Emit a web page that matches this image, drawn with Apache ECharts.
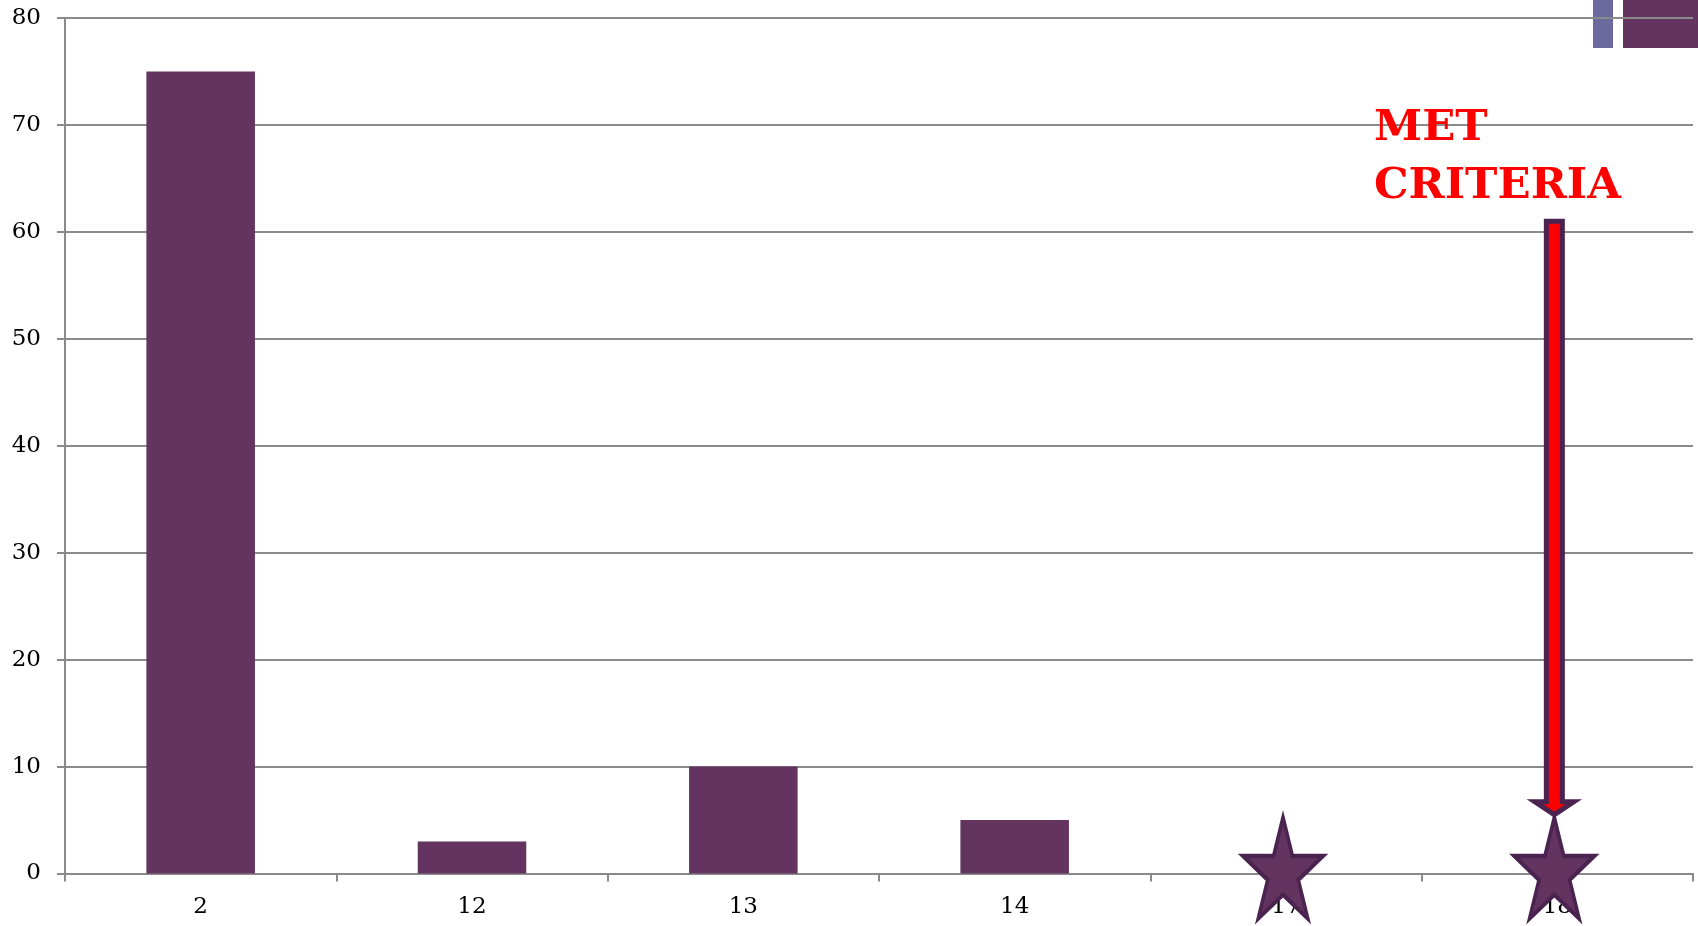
<!DOCTYPE html>
<html>
<head>
<meta charset="utf-8">
<script src="https://cdn.jsdelivr.net/npm/echarts@6/dist/echarts.min.js"></script>
<style>
  html, body { margin: 0; padding: 0; background: #ffffff; }
  #chart { width: 1698px; height: 926px; }
</style>
</head>
<body>
<div id="chart"></div>
<script>
// Categories along the x axis and the bar heights for each
const categories = ['2', '12', '13', '14', '17', '18'];
const barValues = [75, 3, 10, 5, 0, 0];

// Star markers sitting on the baseline
const starCategories = ['17', '18'];
const starValues = [0, 0];

// Annotation arrow: category and the value range it spans
const arrowCategory = '18';
const arrowStart = 61;
const arrowEnd = 5.5;
const annotationText = 'MET\nCRITERIA';

// Value axis ticks
const yMin = 0;
const yMax = 80;
const yStep = 10;

const PURPLE = '#633460';
const DARK_PURPLE = '#4b2350';
const GRID_GRAY = '#8a8a8a';
const SERIF = '"DejaVu Serif", serif';

// Regular five-point star outline as an SVG path
function starPath() {
  const pts = [];
  for (let k = 0; k < 10; k++) {
    const a = -Math.PI / 2 + k * Math.PI / 5;
    const r = k % 2 === 0 ? 100 : 38.2;
    pts.push((r * Math.cos(a)).toFixed(2) + ' ' + (r * Math.sin(a)).toFixed(2));
  }
  return 'path://M' + pts.join(' L') + ' Z';
}

const chart = echarts.init(document.getElementById('chart'), null, { renderer: 'canvas' });

chart.setOption({
  backgroundColor: '#ffffff',
  animation: false,
  grid: { left: 65, right: 5, top: 18, bottom: 52.5, containLabel: false },
  xAxis: {
    type: 'category',
    data: categories,
    boundaryGap: true,
    axisLine: { show: true, lineStyle: { color: GRID_GRAY, width: 2 } },
    axisTick: { show: true, inside: false, length: 8, alignWithLabel: false, lineStyle: { color: GRID_GRAY, width: 2 } },
    axisLabel: { color: '#000', fontFamily: SERIF, fontSize: 23, margin: 22 },
    splitLine: { show: false }
  },
  yAxis: {
    type: 'value',
    min: yMin,
    max: yMax,
    interval: yStep,
    axisLine: { show: true, lineStyle: { color: GRID_GRAY, width: 2 } },
    axisTick: { show: true, inside: false, length: 8, lineStyle: { color: GRID_GRAY, width: 2 } },
    axisLabel: { color: '#000', fontFamily: SERIF, fontSize: 23, margin: 24 },
    splitLine: { show: true, lineStyle: { color: GRID_GRAY, width: 2 } }
  },
  graphic: {
    elements: [
      { type: 'rect', z: -10, shape: { x: 1593, y: 0, width: 20, height: 48 }, style: { fill: '#6a6a9e' } },
      { type: 'rect', z: -10, shape: { x: 1623, y: 0, width: 80, height: 48 }, style: { fill: PURPLE } },
      {
        type: 'text', z: 10, left: 1374, top: 100,
        style: {
          text: annotationText,
          fill: '#ff0000',
          fontFamily: SERIF,
          fontWeight: 900,
          fontSize: 43.5,
          lineHeight: 58
        }
      }
    ]
  },
  series: [
    {
      type: 'bar',
      data: barValues,
      barWidth: '40%',
      itemStyle: { color: PURPLE },
      z: 2
    },
    {
      type: 'scatter',
      data: starCategories.map((c, i) => [c, starValues[i]]),
      symbol: starPath(),
      symbolKeepAspect: false,
      symbolSize: [80, 101],
      symbolOffset: [-3, -5.5],
      itemStyle: { color: PURPLE, borderColor: DARK_PURPLE, borderWidth: 4, opacity: 1 },
      z: 5
    },
    {
      type: 'custom',
      data: [[categories.indexOf(arrowCategory), arrowStart, arrowEnd]],
      renderItem: function (params, api) {
        const top = api.coord([api.value(0), api.value(1)]);
        const tip = api.coord([api.value(0), api.value(2)]);
        const x = top[0] - 3;
        const hw = 8, headHw = 19.5, headLen = 13;
        const headY = tip[1] - headLen;
        return {
          type: 'polygon',
          shape: {
            points: [
              [x - hw, top[1]], [x + hw, top[1]], [x + hw, headY],
              [x + headHw, headY], [x, tip[1]], [x - headHw, headY], [x - hw, headY]
            ]
          },
          style: { fill: '#ff0000', stroke: DARK_PURPLE, lineWidth: 5, lineJoin: 'miter' }
        };
      },
      z: 8
    }
  ]
});
</script>
</body>
</html>
